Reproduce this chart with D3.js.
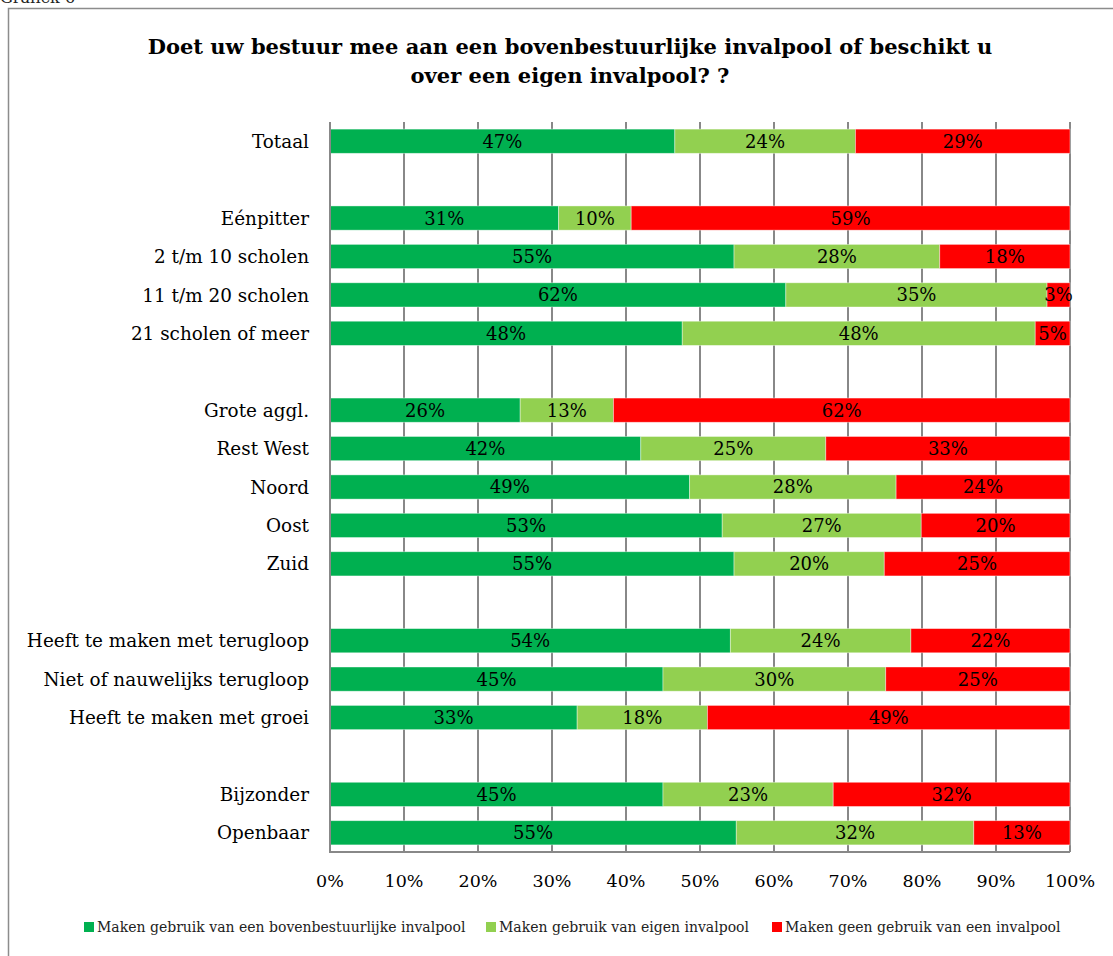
<!DOCTYPE html>
<html>
<head>
<meta charset="utf-8">
<script src="https://cdn.jsdelivr.net/npm/d3@7"></script>
<style>
  html, body { margin: 0; padding: 0; background: #fff; }
  svg { display: block; }
</style>
</head>
<body>
<div id="chart"></div>
<script>
// categorieen (null = lege rij tussen de groepen)
const categories = ['Totaal', null, 'Eénpitter', '2 t/m 10 scholen', '11 t/m 20 scholen', '21 scholen of meer', null,
    'Grote aggl.', 'Rest West', 'Noord', 'Oost', 'Zuid', null,
    'Heeft te maken met terugloop', 'Niet of nauwelijks terugloop', 'Heeft te maken met groei', null,
    'Bijzonder', 'Openbaar']
const bovenbestuurlijk = [46.6, null, 30.9, 54.6, 61.6, 47.6, null, 25.7, 42.0, 48.6, 53.0, 54.6, null, 54.1, 45.0, 33.4, null, 45.0, 54.9]
const eigen = [24.4, null, 9.8, 27.8, 35.3, 47.7, null, 12.6, 25.0, 27.9, 26.9, 20.3, null, 24.4, 30.1, 17.6, null, 23.0, 32.1]
const geen = [29.0, null, 59.3, 17.6, 3.1, 4.7, null, 61.7, 33.0, 23.5, 20.1, 25.1, null, 21.5, 24.9, 49.0, null, 32.0, 13.0]
const seriesNames = ['Maken gebruik van een bovenbestuurlijke invalpool', 'Maken gebruik van eigen invalpool', 'Maken geen gebruik van een invalpool']
const seriesColors = ['#00B050', '#92D050', '#FF0000']
const ticks = [0, 10, 20, 30, 40, 50, 60, 70, 80, 90, 100]

const width = 1113
const height = 956
const font = "'DejaVu Serif', serif"
const margin = { left: 330, right: 43, top: 122, bottom: 104 }

const svg = d3.select('#chart').append('svg')
    .attr('width', width)
    .attr('height', height)
    .style('font-family', font)

// kader + kop boven de grafiek
svg.append('path')
    .attr('d', `M8.5,${height} V8.5 H${width}`)
    .attr('fill', 'none')
    .attr('stroke', '#8c8c8c')
    .attr('stroke-width', 1.5)
svg.append('text')
    .attr('x', 0)
    .attr('y', 3)
    .attr('font-size', 16)
    .attr('fill', '#222')
    .text('Grafiek 6')

// titel
const title = ['Doet uw bestuur mee aan een bovenbestuurlijke invalpool of beschikt u', 'over een eigen invalpool? ?']
svg.append('g').selectAll('text')
    .data(title)
    .enter()
    .append('text')
    .attr('x', 570)
    .attr('y', (d, i) => 54 + i * 29)
    .attr('text-anchor', 'middle')
    .attr('font-size', 21)
    .attr('font-weight', 'bold')
    .attr('fill', '#000')
    .text(d => d)

const x = d3.scaleLinear()
    .domain([0, 100])
    .range([margin.left, width - margin.right])

const y = d3.scaleBand()
    .domain(d3.range(categories.length))
    .range([margin.top, height - margin.bottom])
    .paddingInner(0.37)
    .paddingOuter(0.185)

// rasterlijnen
svg.append('g').selectAll('line')
    .data(ticks)
    .enter()
    .append('line')
    .attr('x1', d => x(d))
    .attr('x2', d => x(d))
    .attr('y1', margin.top)
    .attr('y2', height - margin.bottom)
    .attr('stroke', '#888')
    .attr('stroke-width', 2)

// gestapelde balken
const rows = categories.map((c, i) => ({ i, c, values: [bovenbestuurlijk[i], eigen[i], geen[i]] }))
    .filter(d => d.c !== null)
const stack = d3.stack().keys([0, 1, 2]).value((d, k) => d.values[k])
const layers = stack(rows)

const layerG = svg.append('g').selectAll('g')
    .data(layers)
    .enter()
    .append('g')
    .attr('fill', (d, k) => seriesColors[k])

layerG.selectAll('rect')
    .data(d => d)
    .enter()
    .append('rect')
    .attr('x', d => x(d[0]))
    .attr('y', d => y(d.data.i))
    .attr('width', d => x(d[1]) - x(d[0]))
    .attr('height', y.bandwidth())
    .attr('stroke', 'rgba(255,255,255,0.5)')
    .attr('stroke-width', 0.8)

layerG.selectAll('text')
    .data(d => d)
    .enter()
    .append('text')
    .attr('x', d => (x(d[0]) + x(d[1])) / 2)
    .attr('y', d => y(d.data.i) + y.bandwidth() / 2)
    .attr('dy', '0.36em')
    .attr('text-anchor', 'middle')
    .attr('font-size', 18)
    .attr('fill', '#000')
    .text(d => Math.round(d[1] - d[0]) + '%')

// assen
svg.append('path')
    .attr('d', `M${x(0)},${margin.top} V${height - margin.bottom} H${x(100)}`)
    .attr('fill', 'none')
    .attr('stroke', '#888')
    .attr('stroke-width', 2)

svg.append('g').selectAll('text')
    .data(ticks)
    .enter()
    .append('text')
    .attr('x', d => x(d))
    .attr('y', height - margin.bottom + 35)
    .attr('text-anchor', 'middle')
    .attr('font-size', 17.5)
    .attr('fill', '#000')
    .text(d => d + '%')

svg.append('g').selectAll('text')
    .data(rows)
    .enter()
    .append('text')
    .attr('x', 309)
    .attr('y', d => y(d.i) + y.bandwidth() / 2)
    .attr('dy', '0.36em')
    .attr('text-anchor', 'end')
    .attr('font-size', 18.4)
    .attr('fill', '#000')
    .text(d => d.c)

// legenda
const legendX = [84, 486, 772]
const legend = svg.append('g').selectAll('g')
    .data(seriesNames)
    .enter()
    .append('g')
    .attr('transform', (d, i) => `translate(${legendX[i]}, 922)`)
legend.append('rect')
    .attr('width', 10)
    .attr('height', 10)
    .attr('fill', (d, i) => seriesColors[i])
legend.append('text')
    .attr('x', 13)
    .attr('y', 10)
    .attr('font-size', 14)
    .attr('fill', '#222')
    .text(d => d)
</script>
</body>
</html>
